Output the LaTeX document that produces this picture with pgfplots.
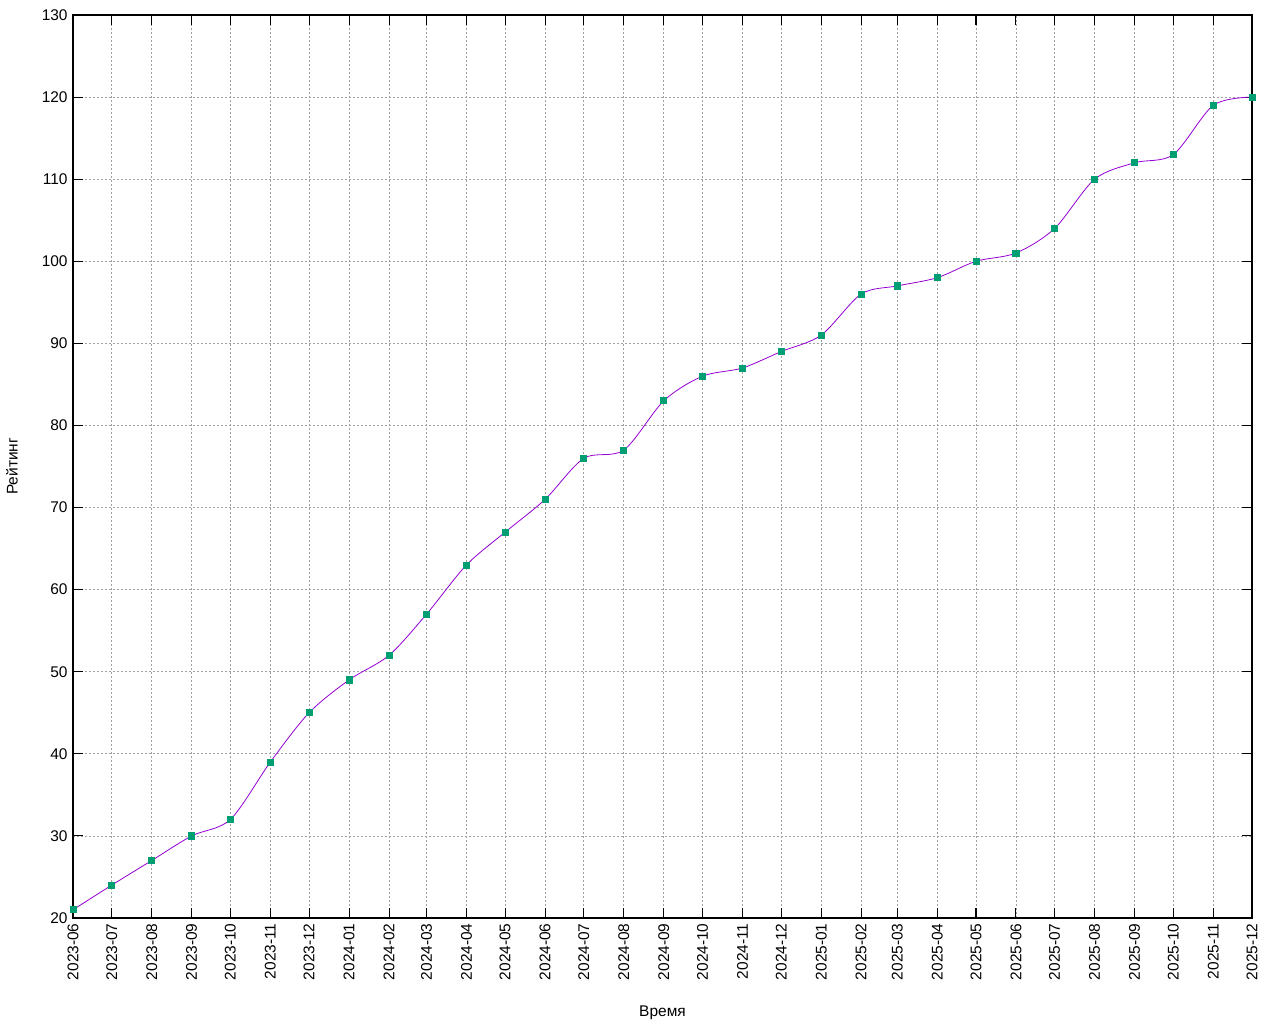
\documentclass[border=0pt]{standalone}
\usepackage{fontspec}
\setmainfont{Liberation Sans}
\usepackage{pgfplots}
\pgfplotsset{compat=1.18}
\definecolor{linec}{HTML}{9400D3}
\definecolor{markc}{HTML}{009E73}
\begin{document}
\fontsize{11.6}{13}\selectfont
\begin{tikzpicture}
\useasboundingbox (-54.75pt,-79.5pt) rectangle (905.25pt,688.5pt);
\begin{axis}[
  at={(0,0)}, anchor=south west,
  scale only axis, width=884.25pt, height=677.25pt,
  xmin=0, xmax=914, ymin=20, ymax=130,
  ytick={20,30,...,130},
  xtick={0,30,61,92,122,153,183,214,245,274,305,335,366,396,427,458,488,519,549,580,611,639,670,700,731,761,792,823,853,884,914},
  xticklabels={2023-06,2023-07,2023-08,2023-09,2023-10,2023-11,2023-12,2024-01,2024-02,2024-03,2024-04,2024-05,2024-06,2024-07,2024-08,2024-09,2024-10,2024-11,2024-12,2025-01,2025-02,2025-03,2025-04,2025-05,2025-06,2025-07,2025-08,2025-09,2025-10,2025-11,2025-12},
  x tick label style={rotate=90, anchor=east},
  /pgf/number format/assume math mode=true,
  tick label style={font=\fontsize{11.6}{13}\selectfont},
  label style={font=\fontsize{11.6}{13}\selectfont},
  tick align=inside, major tick length=7.5pt,
  axis line style={line width=0.9pt},
  every tick/.style={black, line width=0.8pt},
  grid=major,
  major grid style={gray!75, line width=0.6pt, dash pattern=on 1.5pt off 1.5pt},
  xlabel={Время}, ylabel={Рейтинг},
  every axis x label/.style={at={([yshift=-71pt]axis description cs:0.5,0)}, anchor=center},
  every axis y label/.style={at={([xshift=-45.75pt]axis description cs:0,0.5)}, anchor=center, rotate=90},
  clip=false,
]
\addplot[linec, line width=0.6pt, smooth, tension=0.5, mark=square*, mark size=2.3pt,
  mark options={markc, fill=markc, solid}] coordinates {
(0,21) (30,24) (61,27) (92,30) (122,32) (153,39) (183,45) (214,49) (245,52) (274,57)
(305,63) (335,67) (366,71) (396,76) (427,77) (458,83) (488,86) (519,87) (549,89) (580,91)
(611,96) (639,97) (670,98) (700,100) (731,101) (761,104) (792,110) (823,112) (853,113) (884,119) (914,120)
};
\end{axis}
\end{tikzpicture}
\end{document}
